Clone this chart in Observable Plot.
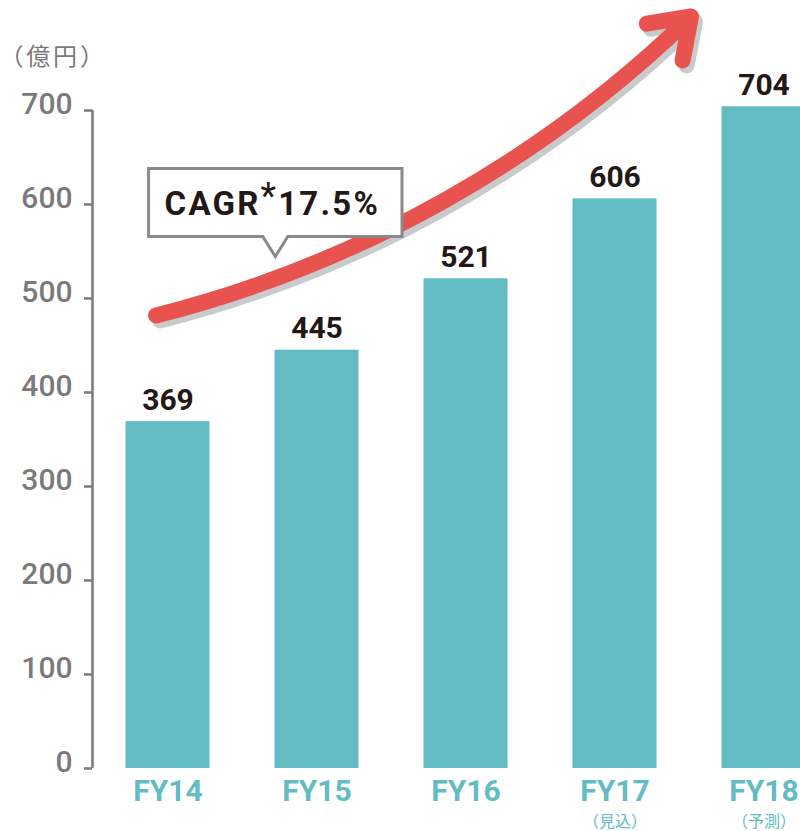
<!DOCTYPE html>
<html><head><meta charset="utf-8">
<script src="https://cdn.jsdelivr.net/npm/d3@7"></script>
<script src="https://cdn.jsdelivr.net/npm/@observablehq/plot@0.6"></script>
<style>
html,body{margin:0;padding:0;background:#fff;}
#chart{width:800px;height:831px;overflow:hidden;}
.unit text{letter-spacing:2.8px;}
.cagr text{letter-spacing:2.2px;}
</style></head><body><div id="chart"></div>
<script>
// ---- data ----
const categories = ["FY14", "FY15", "FY16", "FY17", "FY18"];
const subLabels = ["", "", "", "（見込）", "（予測）"];
const values = [369, 445, 521, 606, 704];
const yTicks = [0, 100, 200, 300, 400, 500, 600, 700];
const unitLabel = "（億円）";
const cagrParts = ["CAGR", "*", "17.5%"];
// trend arrow in chart units: [category index, 億円]
const trendStart = [-0.08, 482];
const trendEnd = [3.51, 800];
// callout anchor in chart units
const calloutAt = [0.70, 600];

// ---- styles ----
const teal = "#63bcc3";
const red = "#e9534f";
const shadow = "#c9cacc";
const gray = "#7a7a7a";
const ink = "#231815";
const cagrSize = 33;

const data = categories.map((c, i) => ({cat: c, i, value: values[i], sub: subLabels[i]}));
const arrowData = [{x1: trendStart[0], y1: trendStart[1], x2: trendEnd[0], y2: trendEnd[1]}];
const calloutData = [{x: calloutAt[0], y: calloutAt[1], text: cagrParts.join("")}];

const step = 149;
const arrowStyle = {x1: "x1", y1: "y1", x2: "x2", y2: "y2", strokeWidth: 16, bend: -15, headAngle: 70, headLength: 4.2, strokeLinecap: "round", strokeLinejoin: "round"};
const chart = Plot.plot({
  width: 800, height: 831,
  marginLeft: 92, marginTop: 110, marginBottom: 63, marginRight: 0,
  style: {fontFamily: "Roboto, sans-serif", background: "white", color: gray, overflow: "visible"},
  x: {type: "linear", domain: [-0.5, categories.length - 0.5], range: [93, 93 + step * categories.length], axis: null},
  y: {domain: [0, 700], axis: null},
  marks: [
    Plot.rectY(data, {x1: d => d.i - 0.5, x2: d => d.i + 0.5, y: "value", insetLeft: 32.5, insetRight: 32.5, fill: teal}),
    Plot.arrow(arrowData, {...arrowStyle, stroke: shadow, dx: 4, dy: 5}),
    Plot.arrow(arrowData, {...arrowStyle, stroke: red}),
    Plot.text(data, {x: "i", y: "value", text: d => String(d.value), dy: -21.6, fontSize: 30, fontWeight: 700, fill: ink}),
    Plot.text(data, {x: "i", y: () => 0, text: "cat", dy: 22.4, fontSize: 30, fontWeight: 700, fill: teal}),
    Plot.text(data.filter(d => d.sub), {x: "i", y: () => 0, text: "sub", dy: 52.9, fontSize: 16, fill: teal, fontFamily: "'Noto Sans CJK JP', sans-serif"}),
    Plot.ruleX([-0.5], {y1: 0, y2: 700, stroke: gray, strokeWidth: 2.5, dx: -1}),
    Plot.axisY(yTicks, {anchor: "left", tickSize: 8, stroke: gray, strokeWidth: 2.5, tickFormat: () => "", label: null}),
    Plot.axisY(yTicks, {anchor: "left", tickSize: 0, tickPadding: 20, fontSize: 30, fontWeight: 500, fill: gray, dy: -6, label: null, tickFormat: d => String(d)}),
    Plot.text([unitLabel], {frameAnchor: "top-left", text: d => d, dx: -93, dy: -53, lineAnchor: "middle", textAnchor: "start", fontSize: 24, fill: gray, fontFamily: "'Noto Sans CJK JP', sans-serif", className: "unit"}),
    Plot.text(calloutData, {x: "x", y: "y", text: "text", fontSize: cagrSize, fontWeight: 700, fill: ink, className: "cagr"})
  ]
});
document.getElementById("chart").append(chart);

// rich text for callout (superscript asterisk) + speech-bubble frame
const g = chart.querySelector(".cagr");
if (g) {
  const t = g.querySelector("text");
  while (t.firstChild) t.removeChild(t.firstChild);
  const ns = "http://www.w3.org/2000/svg";
  const a = document.createElementNS(ns, "tspan"); a.textContent = cagrParts[0];
  const b = document.createElementNS(ns, "tspan"); b.textContent = cagrParts[1];
  b.setAttribute("dy", "-7"); b.setAttribute("font-size", "36"); b.setAttribute("font-weight", "400");
  const c = document.createElementNS(ns, "tspan"); c.textContent = cagrParts[2]; c.setAttribute("dy", "7");
  t.append(a, b, c);
  const bb = t.getBBox();
  const base = 0.32 * cagrSize;
  const left = bb.x - 16, right = bb.x + bb.width + 22, top = base - 46.5, bottom = base + 21.5;
  const cx = (left + right) / 2, hw = 12.5, ph = 20;
  const path = document.createElementNS(ns, "path");
  path.setAttribute("d", `M${left},${top}H${right}V${bottom}H${cx + hw}L${cx},${bottom + ph}L${cx - hw},${bottom}H${left}Z`);
  const tr = t.getAttribute("transform");
  if (tr) path.setAttribute("transform", tr);
  path.setAttribute("fill", "white");
  path.setAttribute("stroke", "#8a8a8a");
  path.setAttribute("stroke-width", "3");
  path.setAttribute("stroke-linejoin", "miter");
  g.insertBefore(path, t);
}
</script></body></html>
